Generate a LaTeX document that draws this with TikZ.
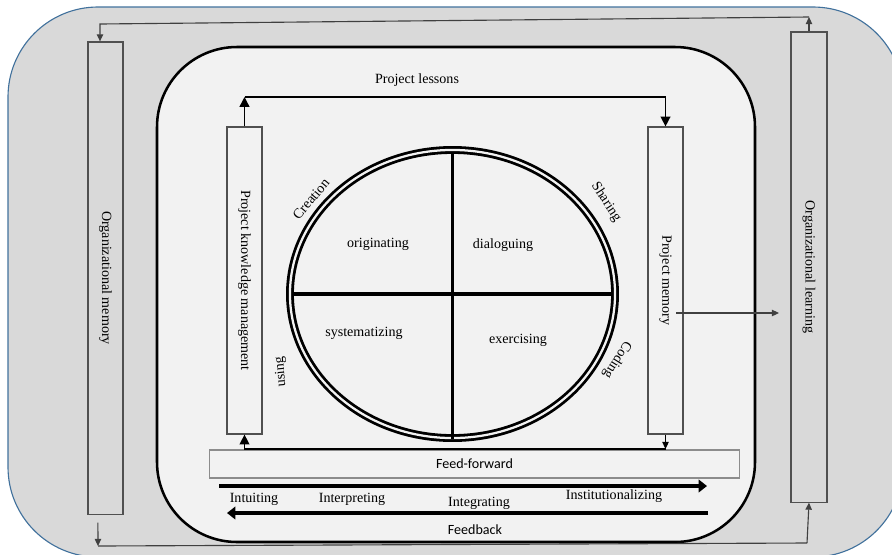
\documentclass[tikz,border=0pt]{standalone}
\usepackage{fontspec}
\setmainfont{Liberation Serif}
\setsansfont{Carlito}
\usepackage{tikz}
\usetikzlibrary{shapes.geometric,arrows.meta}
\definecolor{outerfill}{HTML}{D9D9D9}
\definecolor{outerline}{HTML}{41719C}
\definecolor{innerfill}{HTML}{F2F2F2}
\definecolor{boxline}{HTML}{505050}
\definecolor{linkgray}{HTML}{404040}
\tikzset{
  bar/.style={draw=boxline, line width=0.8pt, rotate=-90, inner sep=0pt, font=\fontsize{10}{12}\selectfont},
  lbl/.style={font=\fontsize{10}{12}\selectfont, inner sep=1pt},
  sans/.style={font=\sffamily\fontsize{10}{12}\selectfont, inner sep=1pt},
  small/.style={line width=0.8pt, -{Triangle[length=5pt,width=4.5pt]}},
  big/.style={line width=1pt, -{Triangle[length=7pt,width=7pt]}},
  flow/.style={line width=2.4pt, -{Triangle[length=6pt,width=9pt]}}
}

\begin{document}
\begin{tikzpicture}[x=0.025cm,y=-0.025cm]
      \clip (0,0) rectangle (892,554);
      \filldraw[fill=outerfill, draw=outerline, line width=0.8pt, rounded corners=2.25cm] (8,7) rectangle (903,557);
      \filldraw[fill=innerfill, draw=black, line width=1.8pt, rounded corners=2cm] (157,47) rectangle (755,542);

      \node[name=om, bar, fill=outerfill, minimum width=11.8cm, minimum height=0.875cm] at (105.5,278) {Organizational memory};
      \node[name=ol, bar, fill=outerfill, minimum width=11.75cm, minimum height=0.9cm] at (809,267) {Organizational learning};
      \node[name=pkm, bar, fill=innerfill, minimum width=7.675cm, minimum height=0.875cm] at (244.5,280.5) {Project knowledge management};
      \node[name=pm, bar, fill=innerfill, minimum width=7.675cm, minimum height=0.875cm] at (665.5,280.5) {Project memory};
      \node[name=ff, sans, draw=black!45, line width=0.8pt, fill=innerfill, minimum width=13.225cm, minimum height=0.7cm] at (474.5,464) {Feed-forward};

      \coordinate (tr) at (809,17);
      \coordinate (tl) at (100,24);
      \coordinate (bl) at (98,546);
      \coordinate (br) at (807,543);
      \draw[small, draw=linkgray] (ol.west) -- (tr);
      \draw[small, draw=linkgray] (tr) -- (tl) -- (tl |- om.west);
      \draw[small, draw=linkgray] ([xshift=-0.19cm,yshift=-0.2cm]om.east) -- (bl);
      \draw[line width=0.8pt, draw=linkgray] (bl) -- (br);
      \draw[small, draw=linkgray] (br) -- (ol.east);

      \coordinate (pl1) at (244.5,97);
      \coordinate (pl2) at (665.5,97);
      \draw[big] (pkm.west) -- (pl1);
      \draw[big] (pl1) -- (pl2) -- (pm.west);
      \node[name=lessons, lbl] at (417,80) {Project lessons};

      \coordinate (fr) at (665.5,449);
      \coordinate (fl) at (244.5,449);
      \draw[small] (pm.east) -- (fr);
      \draw[big] (fr) -- (fl) -- (pkm.east);

      \coordinate (pmout) at (676,313);
      \coordinate (olin) at (779,313);
      \draw[small, draw=linkgray] (pmout) -- (olin);

      \node[name=cycle, ellipse, draw, line width=2pt, double=innerfill, double distance=1.6pt, minimum width=8.125cm, minimum height=7.2cm, inner sep=0pt] at (452.5,294) {};
      \draw[line width=2.2pt] ([xshift=0.08cm]cycle.west) -- ([xshift=-0.08cm]cycle.east);
      \draw[line width=2.2pt] ([yshift=-0.08cm]cycle.north) -- (cycle.south);

      \node[name=orig, lbl] at (378,244) {originating};
      \node[name=dial, lbl] at (503,245) {dialoguing};
      \node[name=syst, lbl] at (364,333) {systematizing};
      \node[name=exer, lbl] at (518,340) {exercising};
      \node[name=creation, lbl, inner sep=0pt, rotate=50] at (311,199) {Creation};
      \node[name=sharing, lbl, inner sep=0pt, rotate=-57] at (606,202) {Sharing};
      \node[name=coding, lbl, inner sep=0pt, rotate=-122] at (617,360) {Coding};
      \node[name=using, lbl, inner sep=0pt, rotate=95] at (281,372) {using};

      \coordinate (fwdstart) at (219,486);
      \coordinate (fwdend) at (707,486);
      \coordinate (backstart) at (708,513);
      \coordinate (backend) at (227,513);
      \draw[flow] (fwdstart) -- (fwdend);
      \draw[flow] (backstart) -- (backend);
      \node[name=intu, lbl] at (254,499) {Intuiting};
      \node[name=inte, lbl] at (352,499) {Interpreting};
      \node[name=integ, lbl] at (479,503) {Integrating};
      \node[name=inst, lbl] at (614,496) {Institutionalizing};
      \node[name=feedback, sans] at (475,530) {Feedback};
\end{tikzpicture}
\end{document}
